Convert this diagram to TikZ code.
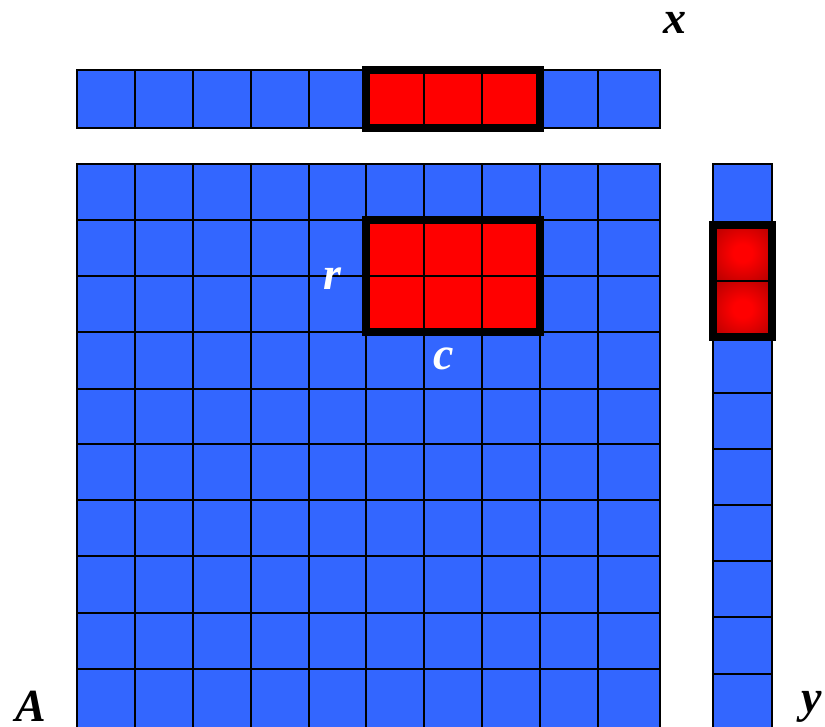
\documentclass[tikz,border=0pt]{standalone}
\usepackage{fontspec}
\setmainfont{Liberation Serif}
\definecolor{cellblue}{HTML}{3366FF}
\definecolor{cellred}{HTML}{FF0000}
\pgfdeclareradialshading{boxglow}{\pgfpoint{0bp}{0bp}}{color(0bp)=(cellred); color(8bp)=(cellred); color(30bp)=(cellred!75!black); color(50bp)=(cellred!50!black); color(72bp)=(cellred!40!black)}
\begin{document}
\begin{tikzpicture}[x=1pt,y=-1pt,
  cell/.style={fill=cellblue,draw=black,line width=1.6pt},
  redcell/.style={fill=cellred,draw=black,line width=1.6pt},
  glowcell/.style={shading=boxglow,draw=black,line width=1.6pt},
  frame/.style={draw=black,line width=8pt},
  lab/.style={font=\fontsize{46}{46}\selectfont\bfseries\itshape,inner sep=0pt,anchor=base},
  wlab/.style={lab,text=white}]
\useasboundingbox (0,0) rectangle (825,727);
\clip (0,0) rectangle (825,727);
% matrix A and vector x
\foreach \xa/\xb in {77/135,135/193,193/251,251/309,309/366,366/424,424/482,482/540,540/598,598/660}{
  \foreach \ya/\yb in {164/220,220/276,276/332,332/389,389/444,444/500,500/556,556/613,613/669,669/735}{
    \draw[cell] (\xa,\ya) rectangle (\xb,\yb);
  }
  \draw[cell] (\xa,70) rectangle (\xb,128);
}
% red block in A and in x
\foreach \xa/\xb in {366/424,424/482,482/540}{
  \foreach \ya/\yb in {220/276,276/332}{
    \draw[redcell] (\xa,\ya) rectangle (\xb,\yb);
  }
  \draw[redcell] (\xa,70) rectangle (\xb,128);
}
\draw[frame] (366,220) rectangle (540,332);
\draw[frame] (366,70) rectangle (540,128);
% vector y
\foreach \ya/\yb in {164/225,337/393,393/449,449/505,505/561,561/617,617/674,674/735}{
  \draw[cell] (713,\ya) rectangle (772,\yb);
}
\shade[glowcell] (713,225) rectangle (772,281);
\shade[glowcell] (713,281) rectangle (772,337);
\draw[frame] (713,225) rectangle (772,337);
% labels
\node[lab] (labA) at (31,721) {A};
\node[lab] (labx) at (675,34) {x};
\node[lab] (laby) at (812,712) {y};
\node[wlab] (labr) at (332,290) {r};
\node[wlab] (labc) at (444,370) {c};
\end{tikzpicture}
\end{document}
